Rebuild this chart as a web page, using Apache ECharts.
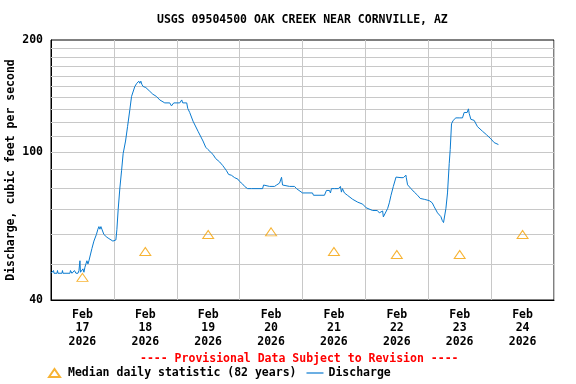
<!DOCTYPE html>
<html>
<head>
<meta charset="utf-8">
<script src="https://cdn.jsdelivr.net/npm/echarts@6/dist/echarts.min.js"></script>
<style>html,body{margin:0;padding:0;background:#fff}#c{width:576px;height:384px}</style>
</head>
<body>
<div id="c"></div>
<script>
// Day labels (each category = one day, Feb 17 .. Feb 24, 2026)
const dayLabels = ['Feb\n17\n2026','Feb\n18\n2026','Feb\n19\n2026','Feb\n20\n2026','Feb\n21\n2026','Feb\n22\n2026','Feb\n23\n2026','Feb\n24\n2026'];
// Median daily statistic, hours since Feb 17 00:00 (noon of each day)
const medianHours = [12, 36, 60, 84, 108, 132, 156, 180];
const medianValues = [46, 54, 60, 61, 54, 53, 53, 60];
// Discharge, hours since Feb 17 00:00 and cfs
const dischargeHours = [0,0.76,0.95,1.14,2.29,2.48,2.67,4.19,4.38,4.57,7.24,7.43,8.0,8.76,8.95,9.52,10.29,10.67,11.05,11.24,11.81,12.19,12.57,12.95,13.33,13.71,14.10,14.48,14.86,15.24,15.62,16.38,17.33,17.90,18.29,18.67,19.05,19.43,19.81,20.19,20.57,21.33,22.10,22.86,23.62,24.38,24.76,25.14,25.64,26.29,26.93,27.54,28.46,29.22,30.10,30.74,32.0,32.76,33.26,33.52,33.90,34.29,34.67,35.16,36.19,37.71,38.86,40.27,41.52,43.43,45.33,45.98,46.48,46.86,49.14,49.90,50.29,51.81,52.19,52.95,54.21,56.11,58.02,59.05,59.92,61.83,62.86,64.38,65.52,66.93,67.81,68.84,70.10,71.35,72.0,73.14,73.90,75.05,76.57,80.76,81.14,81.90,83.43,85.33,86.10,87.24,88.0,88.38,89.14,91.05,92.95,93.71,96.0,99.81,100.19,104.38,105.14,106.29,106.67,107.05,108.19,109.71,110.48,110.86,111.24,112.0,113.14,115.16,117.07,118.97,120.27,122.78,124.57,125.33,126.59,126.86,127.62,128.50,129.14,129.79,130.67,131.70,132.19,133.60,134.48,135.24,135.50,135.62,136.11,137.41,138.67,139.92,140.57,140.95,142.48,144.38,145.52,146.29,147.54,148.84,149.33,149.83,150.29,150.74,151.35,152.0,152.38,152.88,153.52,154.55,155.81,157.07,157.71,158.86,159.35,159.62,160.27,161.52,162.78,164.69,166.21,167.89,169.14,169.90,170.78];
const dischargeValues = [47.2,47.2,48,47.2,47.2,48,47.2,47.2,48,47.2,47.2,48,47.2,47.2,48,47.2,47.2,48,51,47.5,48,48.5,47.5,49,50,51,50,51,51,51,55,57.6,60,62,63,62,63,62,62.5,60,59.4,59,58.5,58,57.6,57.6,58,61.8,70,80,89,99,107,117,130,141,150,153,154,155,153,155,152,150,149,145.6,143,141,138,135.5,135.5,133,133,135.5,135.5,138,135.5,135.5,131,127.7,121,113.7,107,103,101.5,98.5,96,94,92,89.2,87,86.6,85.3,84.5,83.3,82,80.8,79.7,79.7,79.7,81.5,80.8,80.8,80.8,81.5,82.5,85.5,81.5,80.8,80.8,80.8,79.7,77.6,77.6,76.5,76.5,78.8,78.8,77.6,79.7,79.7,79.7,80.8,78,79.7,77.6,76.5,74.6,73.3,72.4,70.8,69.6,69.6,68.6,69.4,66.9,67.2,70.5,73,76.5,80.8,85.6,86.5,85.3,85.3,85.3,86.6,85.3,81.6,79.7,78,76.5,76.5,75,74.6,74,73,71.2,68.6,67,65.5,64.6,64.6,70.5,77.6,93,101.5,119,121.6,123.5,123.5,123.5,127.7,127.7,130.6,127,122.4,121.6,117,113.7,111.3,108.5,106,105,104.7];
// Horizontal grid values
const gridValues = [50,60,70,80,90,100,110,120,130,140,150,160,170,180,190];

const FONT = 'DejaVu Sans Mono';
const chart = echarts.init(document.getElementById('c'), null, {renderer: 'canvas'});
chart.setOption({
  animation: false,
  backgroundColor: '#fff',
  title: {
    text: 'USGS 09504500 OAK CREEK NEAR CORNVILLE, AZ',
    left: 152, top: 9,
    textStyle: {fontFamily: FONT, fontWeight: 'bold', fontSize: 11.5, color: '#000'}
  },
  graphic: [{
    type: 'text', left: 140, top: 353,
    style: {text: '---- Provisional Data Subject to Revision ----', fill: '#ff0000',
      font: 'bold 11.5px "DejaVu Sans Mono"'}
  }],
  legend: {
    left: 48, top: 367, itemWidth: 17, itemHeight: 8, itemGap: 10,
    padding: 0,
    textStyle: {fontFamily: FONT, fontWeight: 'bold', fontSize: 11.5, color: '#000'},
    data: [
      {name: 'Median daily statistic (82 years)', icon: 'path://M0,8 L5.5,0 L11,8 Z'},
      {name: 'Discharge', icon: 'path://M0,0 L17,0 L17,1.2 L0,1.2 Z', itemStyle: {color: '#0a7bd0', borderWidth: 0}}
    ]
  },
  grid: {left: 51, right: 22, top: 40, bottom: 84, outerBoundsMode: 'none', containLabel: false,
    show: true, borderColor: '#000', borderWidth: 1, backgroundColor: 'transparent'},
  xAxis: [{
    type: 'category', data: dayLabels, boundaryGap: true,
    axisTick: {show: false}, axisLine: {show: true, lineStyle: {color: '#000'}},
    splitLine: {show: true, lineStyle: {color: '#c8c8c8', width: 1}},
    axisLabel: {interval: 0, fontFamily: FONT, fontWeight: 'bold', fontSize: 11.5, color: '#000', lineHeight: 13.5, margin: 8}
  }, {
    type: 'value', min: 0, max: 192, show: false
  }],
  yAxis: {
    type: 'log', logBase: 10, min: 40, max: 200,
    name: 'Discharge, cubic feet per second', nameLocation: 'middle', nameRotate: 90, nameGap: 34,
    nameMoveOverlap: false, nameTruncate: {maxWidth: null},
    nameTextStyle: {fontFamily: FONT, fontWeight: 'bold', fontSize: 11.5, color: '#000'},
    axisLine: {show: true, lineStyle: {color: '#000'}}, axisTick: {show: false},
    splitLine: {show: false},
    axisLabel: {fontFamily: FONT, fontWeight: 'bold', fontSize: 11.5, color: '#000', margin: 8,
      formatter: v => String(Math.round(v))}
  },
  series: [{
    name: 'Median daily statistic (82 years)', type: 'scatter', xAxisIndex: 1,
    data: medianHours.map((h, i) => [h, medianValues[i]]),
    symbol: 'triangle', symbolSize: [11, 8], z: 3,
    itemStyle: {color: 'rgba(0,0,0,0)', borderColor: '#f5a000', borderWidth: 1},
    markLine: {
      silent: true, symbol: 'none', z: 1, animation: false,
      label: {show: false},
      lineStyle: {color: '#c8c8c8', width: 1, type: 'solid'},
      emphasis: {disabled: true},
      data: gridValues.map(v => ({yAxis: v}))
    }
  }, {
    name: 'Discharge', type: 'line', xAxisIndex: 1, z: 4,
    data: dischargeHours.map((h, i) => [h, dischargeValues[i]]),
    showSymbol: false, symbol: 'none',
    lineStyle: {color: '#0a7bd0', width: 1}, itemStyle: {color: '#0a7bd0'}
  }]
});
</script>
</body>
</html>
